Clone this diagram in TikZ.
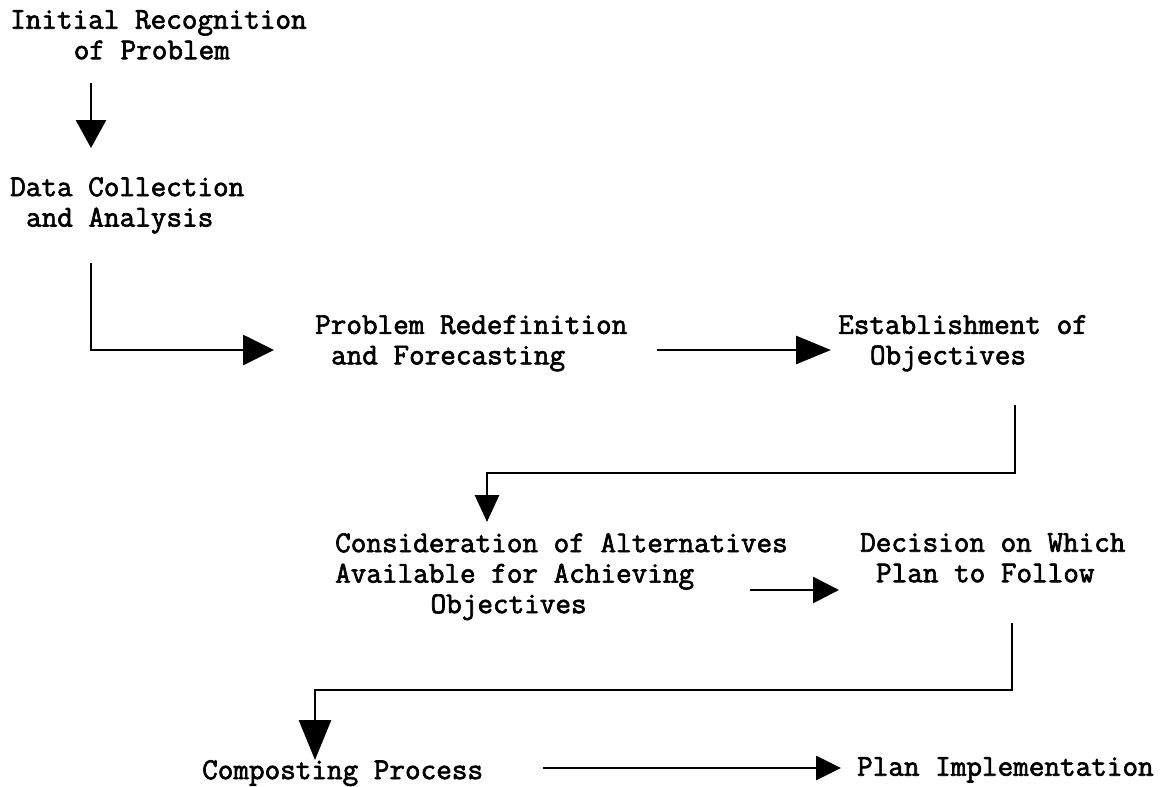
\documentclass[tikz,border=0pt]{standalone}
\usepackage{fontspec}
\setmainfont{Latin Modern Mono}[FakeBold=2.2]
\usetikzlibrary{arrows.meta}
\begin{document}
\begin{tikzpicture}[x=1pt,y=-1pt,
  lbl/.style={anchor=north west,inner sep=0pt,align=left,font=\fontsize{30.3}{30.5}\selectfont},
  arr/.style={line width=2.8pt}]
\useasboundingbox (0,0) rectangle (1171,787);
\node[lbl] (n1) at (10,10) {Initial Recognition\\\hspace*{63.6pt}of Problem};
\node[lbl] (n2) at (10,177) {Data Collection\\\hspace*{15.9pt}and Analysis};
\node[lbl] (n3) at (315,315) {Problem Redefinition\\\hspace*{15.9pt}and Forecasting};
\node[lbl] (n4) at (838,315) {Establishment of\\\hspace*{31.8pt}Objectives};
\node[lbl] (n5) at (335,533) {Consideration of Alternatives\\Available for Achieving\\\hspace*{95.4pt}Objectives};
\node[lbl] (n6) at (860,533) {Decision on Which\\\hspace*{15.9pt}Plan to Follow};
\node[lbl] (n7) at (202,760) {Composting Process};
\node[lbl] (n8) at (857,757) {Plan Implementation};
% connector endpoints
\coordinate (a1s) at (91,83);   \coordinate (a1e) at (91,148);
\coordinate (a2s) at (91,263);  \coordinate (a2b) at (91,350);  \coordinate (a2e) at (274,350);
\coordinate (a3s) at (657,350); \coordinate (a3e) at (831,350);
\coordinate (a4s) at (1015,405);\coordinate (a4b) at (1015,473); \coordinate (a4c) at (487,473); \coordinate (a4e) at (487,522);
\coordinate (a5s) at (750,590); \coordinate (a5e) at (839,590);
\coordinate (a6s) at (1012,623);\coordinate (a6b) at (1012,690); \coordinate (a6c) at (315,690); \coordinate (a6e) at (315,760);
\coordinate (a7s) at (543,768); \coordinate (a7e) at (841,768);
\draw[arr,-{Triangle[length=28pt,width=30pt]}] (a1s) -- (a1e);
\draw[arr,-{Triangle[length=31pt,width=30pt]}] (a2s) -- (a2b) -- (a2e);
\draw[arr,-{Triangle[length=35pt,width=28pt]}] (a3s) -- (a3e);
\draw[arr,-{Triangle[length=27pt,width=24pt]}] (a4s) -- (a4b) -- (a4c) -- (a4e);
\draw[arr,-{Triangle[length=26pt,width=26pt]}] (a5s) -- (a5e);
\draw[arr,-{Triangle[length=40pt,width=32pt]}] (a6s) -- (a6b) -- (a6c) -- (a6e);
\draw[arr,-{Triangle[length=25pt,width=24pt]}] (a7s) -- (a7e);
\end{tikzpicture}
\end{document}
